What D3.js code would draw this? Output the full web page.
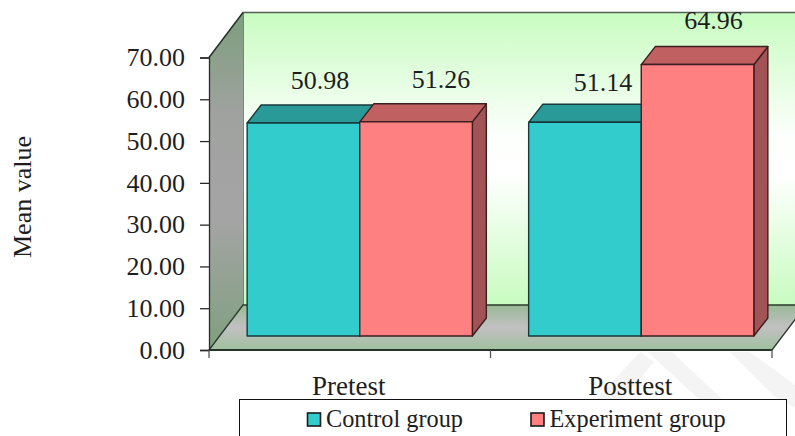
<!DOCTYPE html>
<html>
<head>
<meta charset="utf-8">
<script src="https://cdn.jsdelivr.net/npm/d3@7/dist/d3.min.js"></script>
<style>
  html, body { margin: 0; padding: 0; background: #fff; }
  svg { display: block; }
  text { font-family: "Liberation Serif", serif; fill: #1e1e1e; }
</style>
</head>
<body>
<svg id="chart" width="795" height="436"></svg>
<script>
// Chart data
const categories = ["Pretest", "Posttest"];
const seriesNames = ["Control group", "Experiment group"];
const controlValues = [50.98, 51.14];
const experimentValues = [51.26, 64.96];
const valueTicks = [0, 10, 20, 30, 40, 50, 60, 70];

// Layout of the pseudo-3D box
const floorY = 350, topY = 57.5;
const axisLeft = 209, axisRight = 772;
const boxDx = 34, boxDy = 45;      // offset of the back wall from the front plane
const barLift = 14;                // bars stand part way back on the floor
const barDx = 14, barDy = 18;      // depth of each bar
const labelFontSize = 26;

// Hand placement of the value labels relative to their bars: [dx, gap above top]
const labelOffsets = [
  [[16.5, 34], [25, 34]],
  [[18, 31], [16, 35.5]]
];

const palette = [
  { front: "#33cccc", top: "#2a9a98", side: "#228080", stroke: "#17393b" },
  { front: "#ff8080", top: "#c06060", side: "#a25356", stroke: "#3b1e20" }
];

const svg = d3.select("#chart");
const defs = svg.append("defs");

function verticalGradient(id, y1, y2, stops) {
  const g = defs.append("linearGradient")
    .attr("id", id)
    .attr("gradientUnits", "userSpaceOnUse")
    .attr("x1", 0).attr("x2", 0).attr("y1", y1).attr("y2", y2);
  stops.forEach(([o, c]) => g.append("stop").attr("offset", o).attr("stop-color", c));
}

verticalGradient("wallFill", topY - boxDy, floorY - boxDy,
  [[0, "#c8fcc0"], [0.42, "#fcfffc"], [0.55, "#ffffff"], [1, "#c8fcc0"]]);
verticalGradient("sideFill", topY - boxDy, floorY,
  [[0, "#7c9e7c"], [0.3, "#a0a2a0"], [0.62, "#a4a4a4"], [1, "#7fa07f"]]);
verticalGradient("floorFill", floorY - boxDy, floorY,
  [[0, "#98ba96"], [0.5, "#c2c0c2"], [1, "#9fc09d"]]);

// Scales
const y = d3.scaleLinear().domain([0, 70]).range([floorY, topY]);
const xAxisScale = d3.scaleBand().domain(categories).range([axisLeft, axisRight]);
const x0 = d3.scaleBand().domain(categories)
  .range([axisLeft + 10, axisRight + 10])
  .paddingInner(0.2).paddingOuter(0.1);
const x1 = d3.scaleBand().domain(seriesNames).range([0, x0.bandwidth()]);

const line = d3.line();
const poly = pts => line(pts) + "Z";

// Faint diagonal bands on the page behind the plot
const bands = svg.append("g").attr("fill", "#f4f4f4");
[
  [[640, 352], [654, 362], [622, 400], [596, 400]],
  [[648, 352], [672, 352], [723, 400], [700, 400]],
  [[730, 352], [750, 352], [795, 385], [795, 408], [775, 397]]
].forEach(p => bands.append("path").attr("d", poly(p)));

// Box: back wall, left wall, floor
const plot = svg.append("g");
plot.append("path")
  .attr("d", poly([[axisLeft + boxDx, topY - boxDy], [axisRight + boxDx, topY - boxDy],
                   [axisRight + boxDx, floorY - boxDy], [axisLeft + boxDx, floorY - boxDy]]))
  .attr("fill", "url(#wallFill)");
plot.append("path")
  .attr("d", line([[axisLeft + boxDx, floorY - boxDy], [axisLeft + boxDx, topY - boxDy], [axisRight + boxDx, topY - boxDy]]))
  .attr("fill", "none").attr("stroke", "#556055").attr("stroke-width", 1.5);
plot.append("path")
  .attr("d", poly([[axisLeft, topY], [axisLeft + boxDx, topY - boxDy],
                   [axisLeft + boxDx, floorY - boxDy], [axisLeft, floorY]]))
  .attr("fill", "url(#sideFill)");
plot.append("path")
  .attr("d", line([[axisLeft, topY], [axisLeft + boxDx, topY - boxDy]]))
  .attr("stroke", "#26302a").attr("stroke-width", 1.5).attr("fill", "none");
plot.append("path")
  .attr("d", poly([[axisLeft, floorY], [axisLeft + boxDx, floorY - boxDy],
                   [axisRight + boxDx, floorY - boxDy], [axisRight, floorY]]))
  .attr("fill", "url(#floorFill)")
  .attr("stroke", "#2c3a2e").attr("stroke-width", 1.3);
plot.append("line")
  .attr("x1", axisLeft).attr("x2", axisRight)
  .attr("y1", floorY).attr("y2", floorY)
  .attr("stroke", "#26322a").attr("stroke-width", 2);

// Value axis
const yAxis = d3.axisLeft(y)
  .tickValues(valueTicks)
  .tickFormat(d3.format(".2f"))
  .tickSize(9)
  .tickPadding(15);
const yG = svg.append("g").attr("transform", `translate(${axisLeft},0)`).call(yAxis);
yG.select(".domain").attr("stroke", "#2a2a2a").attr("stroke-width", 1.3);
yG.selectAll(".tick line").attr("stroke", "#2a2a2a").attr("stroke-width", 1.3);
yG.selectAll(".tick text")
  .attr("font-family", "Liberation Serif")
  .attr("font-size", labelFontSize)
  .attr("dy", "0.32em")
  .style("fill", "#1e1e1e");

// Category axis: labels in the band centres, ticks on the band edges
const xAxis = d3.axisBottom(xAxisScale).tickSize(0).tickPadding(26);
const xG = svg.append("g").attr("transform", `translate(0,${floorY})`).call(xAxis);
xG.select(".domain").remove();
xG.selectAll(".tick text")
  .attr("font-family", "Liberation Serif")
  .attr("font-size", 27)
  .attr("x", -1)
  .style("fill", "#1e1e1e");
const edges = categories.map(c => xAxisScale(c)).concat(axisRight);
xG.selectAll(".edge").data(edges).join("line")
  .attr("class", "edge")
  .attr("x1", d => d).attr("x2", d => d)
  .attr("y1", 0).attr("y2", 8)
  .attr("stroke", "#555").attr("stroke-width", 1.3);

// Axis title
svg.append("text")
  .attr("transform", "translate(31,197) rotate(-90)")
  .attr("text-anchor", "middle")
  .attr("font-size", labelFontSize)
  .text("Mean value");

// Bars, each with front, top and side faces
const seriesValues = [controlValues, experimentValues];
const barsG = svg.append("g");
categories.forEach((cat, ci) => {
  seriesNames.forEach((name, si) => {
    const v = seriesValues[si][ci];
    const c = palette[si];
    const l = x0(cat) + x1(name), r = l + x1.bandwidth();
    const t = y(v) - barLift, b = y(0) - barLift;
    const g = barsG.append("g")
      .attr("stroke", c.stroke).attr("stroke-width", 1.4).attr("stroke-linejoin", "round");
    g.append("path").attr("fill", c.side)
      .attr("d", poly([[r, t], [r + barDx, t - barDy], [r + barDx, b - barDy], [r, b]]));
    g.append("path").attr("fill", c.top)
      .attr("d", poly([[l, t], [l + barDx, t - barDy], [r + barDx, t - barDy], [r, t]]));
    g.append("path").attr("fill", c.front)
      .attr("d", poly([[l, t], [r, t], [r, b], [l, b]]));
  });
});

// Value labels
categories.forEach((cat, ci) => {
  seriesNames.forEach((name, si) => {
    const v = seriesValues[si][ci];
    const [dx, gap] = labelOffsets[ci][si];
    svg.append("text")
      .attr("x", x0(cat) + x1(name) + x1.bandwidth() / 2 + dx)
      .attr("y", y(v) - barLift - gap)
      .attr("text-anchor", "middle")
      .attr("font-size", labelFontSize)
      .text(v.toFixed(2));
  });
});

// Legend, running off the bottom edge of the page
const legend = svg.append("g");
legend.append("rect")
  .attr("x", 239.5).attr("y", 399.5)
  .attr("width", 547).attr("height", 60)
  .attr("fill", "#fff").attr("stroke", "#111").attr("stroke-width", 1);
const legendX = [307.5, 531];
seriesNames.forEach((name, i) => {
  legend.append("rect")
    .attr("x", legendX[i]).attr("y", 413)
    .attr("width", 13).attr("height", 13)
    .attr("fill", palette[i].front)
    .attr("stroke", "#1a1a1a").attr("stroke-width", 1.6);
  legend.append("text")
    .attr("x", legendX[i] + 18.5).attr("y", 427)
    .attr("font-size", 24.3)
    .text(name);
});
</script>
</body>
</html>
